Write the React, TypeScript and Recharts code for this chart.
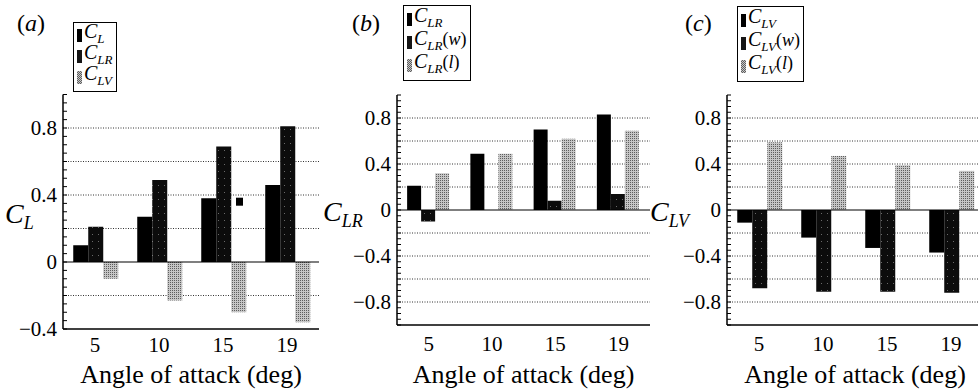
import React from "react";
import {
  Bar,
  CartesianGrid,
  ComposedChart,
  Legend,
  ReferenceLine,
  Scatter,
  XAxis,
  YAxis,
} from "recharts";

const SERIF = "Liberation Serif, Times New Roman, Times, DejaVu Serif, serif";

const angles = ["5", "10", "15", "19"];

// (a) total lift and its two parts
const cL = [0.1, 0.27, 0.38, 0.46];
const cLR = [0.21, 0.49, 0.69, 0.81];
const cLV = [-0.1, -0.23, -0.3, -0.36];
const strayMark = [null, null, 0.36, null];

// (b) C_LR split in wing / leading-edge parts
const cLRb = [0.21, 0.49, 0.7, 0.83];
const cLRw = [-0.1, 0, 0.08, 0.14];
const cLRl = [0.32, 0.49, 0.62, 0.69];

// (c) C_LV split
const cLVc = [-0.11, -0.24, -0.33, -0.37];
const cLVw = [-0.68, -0.71, -0.71, -0.72];
const cLVl = [0.59, 0.47, 0.39, 0.34];

const yTicksA = [-0.4, 0, 0.4, 0.8];
const yTicksBC = [-0.8, -0.4, 0, 0.4, 0.8];
const gridA = [-0.2, 0.2, 0.4, 0.6, 0.8];
const gridBC = [-0.8, -0.6, -0.4, -0.2, 0.2, 0.4, 0.6, 0.8];

const dataA = angles.map((angle, i) => ({ angle, cL: cL[i], cLR: cLR[i], cLV: cLV[i], mark: strayMark[i] }));
const dataB = angles.map((angle, i) => ({ angle, tot: cLRb[i], w: cLRw[i], l: cLRl[i] }));
const dataC = angles.map((angle, i) => ({ angle, tot: cLVc[i], w: cLVw[i], l: cLVl[i] }));

type Kind = "black" | "dark" | "gray";
interface Series {
  key: string;
  kind: Kind;
  sub: string;
  suffix?: string;
}

const fmt = (v: number) => (v === 0 ? "0" : v < 0 ? `\u2212${Math.abs(v)}` : `${v}`);

// minor tick marks every 0.05 on the left frame
const minorTicks = (lo: number, hi: number) => {
  const out: number[] = [];
  for (let k = Math.round(lo * 20); k <= Math.round(hi * 20); k++) out.push(k / 20);
  return out;
};

const YTick = (props: any) => {
  const { x, y, payload, majors } = props;
  const major = majors.some((m: number) => Math.abs(m - payload.value) < 1e-6);
  return (
    <g>
      <line x1={x} x2={x + 4} y1={y} y2={y} stroke="#000" strokeWidth={1} />
      {major && (
        <text x={x - 6} y={y} textAnchor="end" dominantBaseline="central" fontSize={21} fontFamily={SERIF} fill="#000">
          {fmt(payload.value)}
        </text>
      )}
    </g>
  );
};

const YTitle = ({ viewBox, sub }: any) => {
  const vb = viewBox || { x: 0, y: 0, height: 0 };
  const base = vb.y + vb.height / 2 + 11;
  return (
    <text x={vb.x} y={base} fontFamily={SERIF} fill="#000">
      <tspan fontStyle="italic" fontSize={28}>C</tspan>
      <tspan fontStyle="italic" fontSize={18} dy={6}>{sub}</tspan>
    </text>
  );
};

const swatchBg: Record<Kind, string> = {
  black: "#000",
  dark: "#151515",
  gray: "repeating-conic-gradient(#5e5e5e 0 25%, #c6c6c6 0 50%) 0 0 / 2px 2px",
};

const LegendBox = ({ series, row }: { series: Series[]; row: number }) => (
  <div
    style={{
      border: "1.5px solid #000",
      background: "#fff",
      padding: "2px 3px 3px 3px",
      fontFamily: SERIF,
      color: "#000",
      whiteSpace: "nowrap",
    }}
  >
    {series.map((s) => (
      <div key={s.key} style={{ height: row, display: "flex", alignItems: "center" }}>
        <span style={{ display: "inline-block", width: 5, height: 13, background: swatchBg[s.kind], marginRight: 2 }} />
        <span style={{ fontSize: 20, lineHeight: "20px", position: "relative", top: -3 }}>
          <i>C</i>
          <i style={{ fontSize: 13, position: "relative", top: 5 }}>{s.sub}</i>
          {s.suffix && (
            <span style={{ fontSize: 18 }}>
              (<i>{s.suffix}</i>)
            </span>
          )}
        </span>
      </div>
    ))}
  </div>
);

interface PanelProps {
  id: string;
  tag: string;
  left: number;
  width: number;
  margin: { top: number; right: number; bottom: number; left: number };
  yWidth: number;
  xHeight: number;
  tickGap: number;
  domain: [number, number];
  majors: number[];
  grid: number[];
  data: any[];
  series: Series[];
  ySub: string;
  legendPos: { left: number; top: number };
  legendRow: number;
  tagLeft: number;
  mark?: boolean;
}

const Panel = (p: PanelProps) => {
  const fillOf = (k: Kind) => (k === "black" ? "#000" : `url(#${k}-${p.id})`);
  const axisLine = { stroke: "#000", strokeWidth: 1.5 };
  return (
    <>
      <div
        style={{
          position: "absolute",
          left: p.tagLeft,
          top: 11,
          fontFamily: SERIF,
          fontSize: 24,
          lineHeight: "24px",
          color: "#000",
        }}
      >
        (<i>{p.tag}</i>)
      </div>
      <div style={{ position: "absolute", left: p.left, top: 0 }}>
        <ComposedChart width={p.width} height={390} data={p.data} margin={p.margin} barCategoryGap="16%" barGap={0}>
          <defs>
            <pattern id={`dark-${p.id}`} width="6" height="7" patternUnits="userSpaceOnUse">
              <rect width="6" height="7" fill="#0c0c0c" />
              <rect x="2" y="3" width="1" height="1" fill="#6a6a6a" />
            </pattern>
            <pattern id={`gray-${p.id}`} width="2" height="2" patternUnits="userSpaceOnUse">
              <rect width="2" height="2" fill="#c6c6c6" />
              <rect width="1" height="1" fill="#5e5e5e" />
            </pattern>
          </defs>
          <CartesianGrid
            vertical={false}
            horizontalValues={p.grid}
            stroke="#333"
            strokeDasharray="1 1.5"
          />
          <XAxis
            dataKey="angle"
            height={p.xHeight}
            axisLine={axisLine}
            tickLine={false}
            tickMargin={p.tickGap}
            tick={{ fill: "#000", fontSize: 21, fontFamily: SERIF }}
            label={{
              value: "Angle of attack (deg)",
              position: "insideBottom",
              offset: 7,
              fill: "#000",
              fontSize: 26,
              fontFamily: SERIF,
            }}
          />
          <XAxis xAxisId="top" orientation="top" dataKey="angle" height={0} tick={false} tickLine={false} axisLine={axisLine} />
          <YAxis
            domain={p.domain}
            ticks={minorTicks(p.domain[0], p.domain[1])}
            interval={0}
            width={p.yWidth}
            tickSize={0}
            tickMargin={0}
            tickLine={false}
            axisLine={axisLine}
            allowDataOverflow
            tick={(t: any) => <YTick {...t} majors={p.majors} />}
            label={{ content: (lp: any) => <YTitle viewBox={lp.viewBox} sub={p.ySub} /> }}
          />
          <YAxis yAxisId="right" orientation="right" domain={p.domain} width={0} tick={false} tickLine={false} axisLine={axisLine} />
          <ReferenceLine y={0} stroke="#000" strokeWidth={1.2} />
          {p.series.map((s) => (
            <Bar key={s.key} dataKey={s.key} fill={fillOf(s.kind)} isAnimationActive={false} />
          ))}
          {p.mark && (
            <Scatter
              dataKey="mark"
              isAnimationActive={false}
              shape={(sp: any) =>
                sp.payload && sp.payload.mark != null && Number.isFinite(sp.cy) ? (
                  <rect x={sp.cx + 13} y={sp.cy - 4} width={7} height={8} fill="#000" />
                ) : (
                  <g />
                )
              }
            />
          )}
          <Legend
            layout="vertical"
            verticalAlign="middle"
            align="center"
            wrapperStyle={{ left: p.legendPos.left, top: p.legendPos.top, width: "auto", height: "auto" }}
            content={() => <LegendBox series={p.series} row={p.legendRow} />}
          />
        </ComposedChart>
      </div>
    </>
  );
};

export default function App() {
  return (
    <div style={{ position: "absolute", left: 0, top: 0, width: 978, height: 390, overflow: "hidden", background: "#fff" }}>
      <Panel
        id="a"
        tag="a"
        tagLeft={17}
        left={0}
        width={325}
        margin={{ top: 94.5, right: 6, bottom: 0, left: 5 }}
        yWidth={58}
        xHeight={61}
        tickGap={2}
        domain={[-0.4, 1.0]}
        majors={yTicksA}
        grid={gridA}
        data={dataA}
        series={[
          { key: "cL", kind: "black", sub: "L" },
          { key: "cLR", kind: "dark", sub: "LR" },
          { key: "cLV", kind: "gray", sub: "LV" },
        ]}
        ySub="L"
        legendPos={{ left: 73, top: 22 }}
        legendRow={21}
        mark
      />
      <Panel
        id="b"
        tag="b"
        tagLeft={352}
        left={320}
        width={336}
        margin={{ top: 95, right: 6, bottom: 0, left: 3 }}
        yWidth={74}
        xHeight={65}
        tickGap={5}
        domain={[-1, 1]}
        majors={yTicksBC}
        grid={gridBC}
        data={dataB}
        series={[
          { key: "tot", kind: "black", sub: "LR" },
          { key: "w", kind: "dark", sub: "LR", suffix: "w" },
          { key: "l", kind: "gray", sub: "LR", suffix: "l" },
        ]}
        ySub="LR"
        legendPos={{ left: 83, top: 5 }}
        legendRow={23}
      />
      <Panel
        id="c"
        tag="c"
        tagLeft={685}
        left={645}
        width={345}
        margin={{ top: 95, right: 7, bottom: 0, left: 5 }}
        yWidth={77}
        xHeight={65}
        tickGap={5}
        domain={[-1, 1]}
        majors={yTicksBC}
        grid={gridBC}
        data={dataC}
        series={[
          { key: "tot", kind: "black", sub: "LV" },
          { key: "w", kind: "dark", sub: "LV", suffix: "w" },
          { key: "l", kind: "gray", sub: "LV", suffix: "l" },
        ]}
        ySub="LV"
        legendPos={{ left: 92, top: 6 }}
        legendRow={23}
      />
    </div>
  );
}
